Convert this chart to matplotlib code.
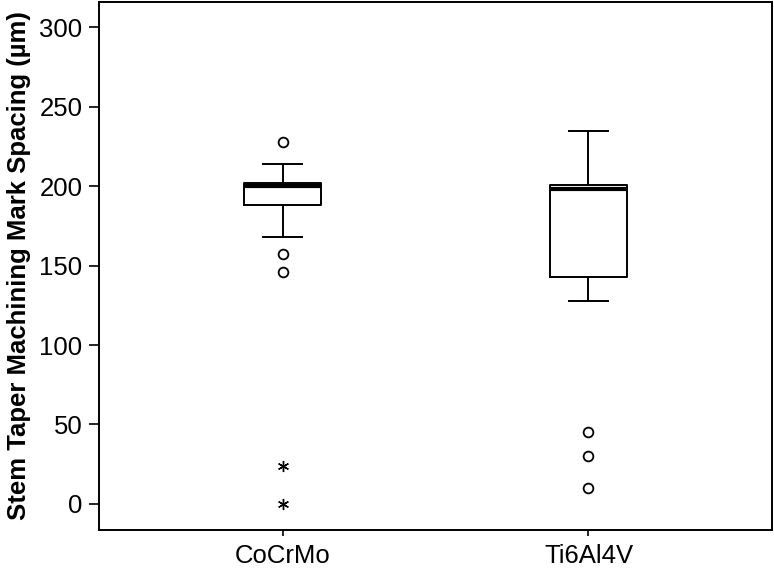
import matplotlib
matplotlib.use("Agg")
import matplotlib.pyplot as plt

plt.rcParams['font.family'] = ['Liberation Sans', 'DejaVu Sans']

categories = ["CoCrMo", "Ti6Al4V"]
whisker_low = [168, 128]
q1 = [188, 143]
median = [200, 198]
q3 = [202, 201]
whisker_high = [214, 235]
outliers_circle = [[228, 157, 146], [45, 30, 10]]
outliers_star = [[24, 0], []]
yticks = [0, 50, 100, 150, 200, 250, 300]

fig = plt.figure(figsize=(7.74, 5.69), dpi=100)
ax = fig.add_axes([99/774, 1 - 530/569, (772-99)/774, (530-2)/569])

positions = [1, 2]
stats = []
for i, c in enumerate(categories):
    stats.append(dict(label=c, whislo=whisker_low[i], q1=q1[i], med=median[i],
                      q3=q3[i], whishi=whisker_high[i], fliers=outliers_circle[i]))

ax.bxp(stats, positions=positions, widths=0.25, showfliers=True,
       boxprops=dict(color='black', linewidth=1.4),
       whiskerprops=dict(color='black', linewidth=1.4),
       capprops=dict(color='black', linewidth=1.4),
       capwidths=0.125,
       medianprops=dict(color='black', linewidth=3.0),
       flierprops=dict(marker='o', markerfacecolor='white', markeredgecolor='black',
                       markersize=7, markeredgewidth=1.3, linestyle='none'))

for i, pts in enumerate(outliers_star):
    if pts:
        ax.plot([positions[i]] * len(pts), pts, linestyle='none', marker=(6, 2, 0),
                color='black', markersize=8, markeredgewidth=1.0)

ax.set_xlim(0.4, 2.6)
ax.set_ylim(-16.5, 316)
ax.set_yticks(yticks)
ax.set_yticklabels([str(t) for t in yticks])
ax.set_xticks(positions)
ax.set_xticklabels(categories)
ax.tick_params(axis='y', length=7, width=1.2, labelsize=18.5, pad=5)
ax.tick_params(axis='x', length=4, width=1.2, labelsize=18.5, pad=6)
for s in ax.spines.values():
    s.set_linewidth(1.4)
ax.set_ylabel("Stem Taper Machining Mark Spacing (µm)", fontsize=18.5, fontweight='bold', labelpad=6)

fig.savefig("out.png", dpi=100)
